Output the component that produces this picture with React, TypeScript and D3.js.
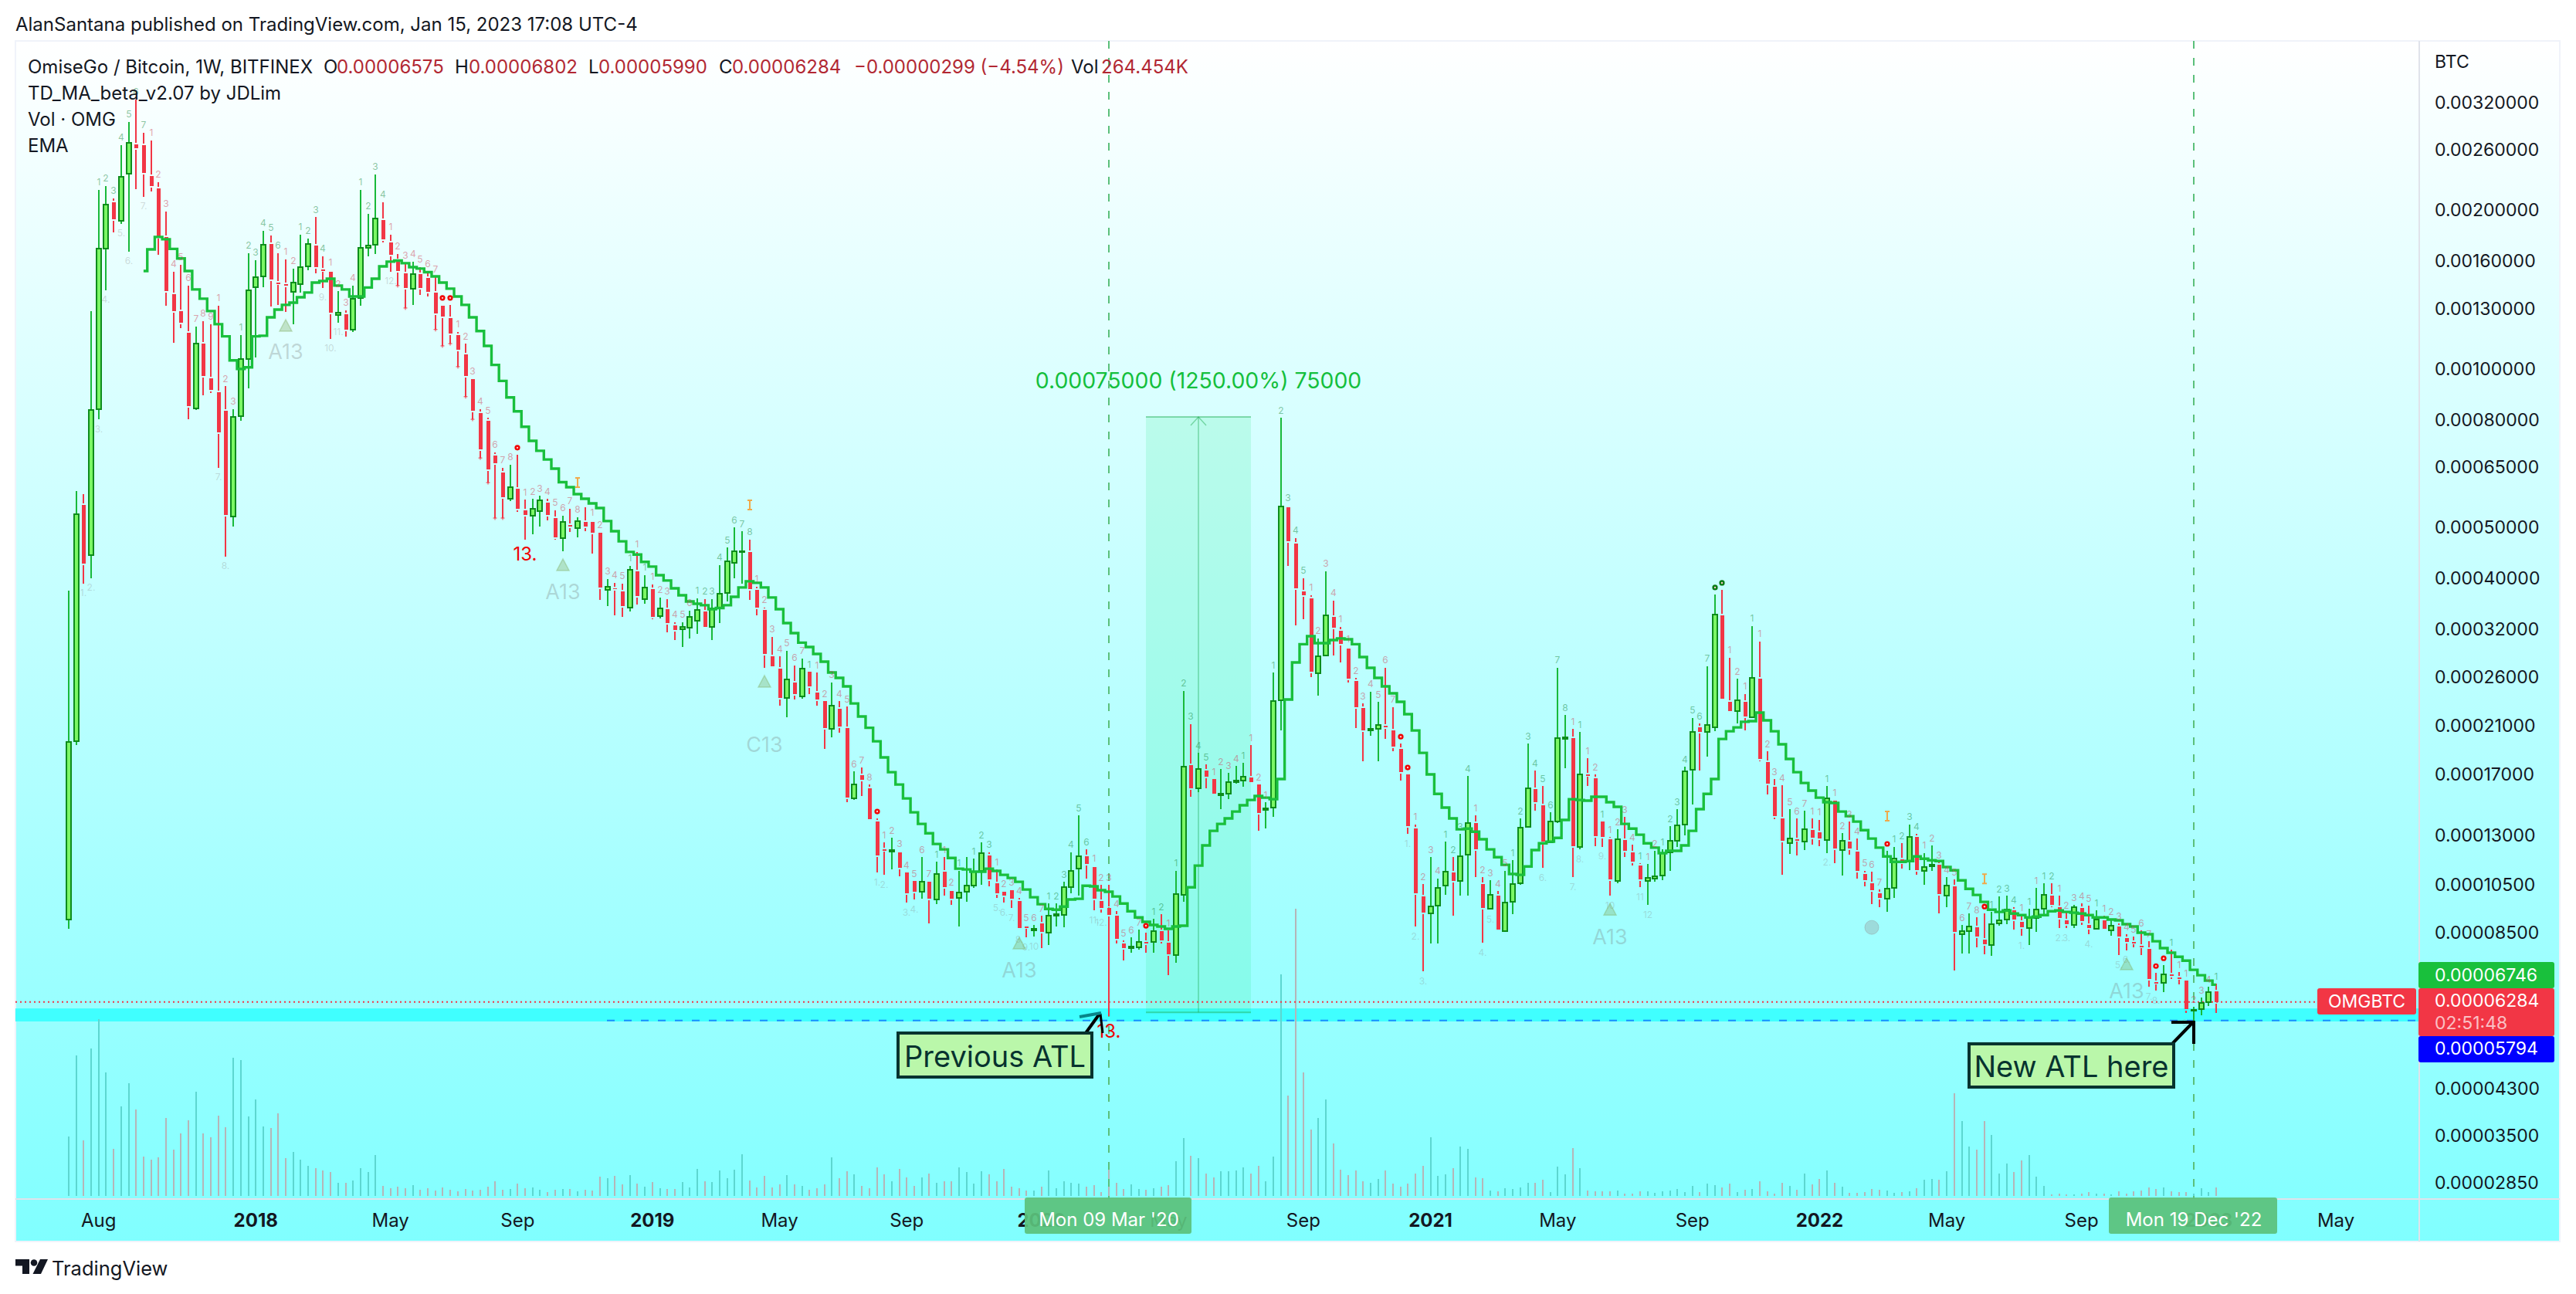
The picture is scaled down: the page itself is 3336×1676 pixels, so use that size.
import React, { useRef, useEffect } from 'react';
import * as d3 from 'd3';

// weekly OMG/BTC candles, prices in satoshi
const opens = [9005,19630,55150,44300,83800,169100,207000,190900,234600,266600,265700,232300,220000,177900,138500,128650,117100,84100,111600,95900,90200,83240,52430,81300,104300,142800,149700,172600,145700,144700,140000,144700,156400,171400,154300,152800,126500,126900,118700,136200,169600,172000,191500,173700,160800,151700,141900,151200,148700,139500,131700,124800,115900,106500,95600,82400,79650,68400,63540,56640,59200,53870,52610,53690,55710,52070,47710,50500,49820,51200,51200,48850,38050,38310,37800,35210,41260,36540,38180,33930,34970,32580,32040,32250,33250,34630,32360,35210,37540,42820,44900,44900,38050,34860,28460,26970,23720,25380,23880,26600,24290,23400,20720,22620,20790,15290,16920,15980,13820,12240,12120,12080,11060,10650,10170,10620,9830,11100,10200,9895,10170,10440,11140,11910,10550,10170,10240,9762,8735,8590,8854,8503,9153,9184,10370,11250,11870,11330,9762,9467,9153,8110,7948,7975,8165,8165,8560,8137,7711,10030,17680,15980,17270,16640,15500,15600,16410,16520,16750,16250,14540,14690,23480,54600,46570,37800,36670,26420,28560,33820,31820,29440,25550,22700,20580,20720,21000,20580,18980,16980,13400,9961,9247,9563,10440,11060,10650,11950,13730,10510,9435,9995,8560,9729,10550,13490,15920,14840,12620,13820,19830,19890,12370,16980,16690,13820,12790,10650,12740,12080,11400,10650,10770,10910,12080,12700,13640,17330,20860,20440,20860,34050,23320,22390,23320,21800,25800,17920,16080,14010,12570,12790,12660,13310,13180,12740,15140,12200,12660,12120,10990,10550,10100,9860,10340,11710,11590,12910,11140,11360,11440,9995,10410,8445,8560,8705,8250,8055,8854,9005,9371,8914,8676,9061,9435,9995,9500,8975,8795,9467,8795,8648,8975,8590,8735,8304,8165,8029,7921,6849,6826,7082,6987,6895,6045,6086,6274,6575];
const highs = [37930,58600,57800,128650,218500,222200,210600,265700,294100,324300,280500,271200,226000,198800,152800,157500,143800,120300,123100,121500,131700,92700,83800,115900,165700,160800,182800,179100,165700,161300,154900,179700,176700,194100,163500,153800,140400,129100,143800,218500,196800,233800,207000,179700,165100,158600,159700,155900,152800,149200,132200,132200,117500,111600,95600,83800,80700,69400,64850,65730,68700,56450,56640,57410,56640,53870,52610,54230,52250,54600,51550,48850,39900,39230,39100,42250,44900,40570,38970,36790,36540,33030,33030,34740,36670,36540,36540,42390,45790,50000,49160,47390,38570,35210,30970,28460,29150,27340,28180,26600,26510,23400,25380,23400,22850,17210,17500,16250,14010,12620,12870,12120,11060,10650,11830,10650,11590,11830,10270,11140,11830,11750,12620,12080,11210,10200,10270,9895,8795,8795,9153,9660,9660,10620,12080,14200,12240,11400,10480,10480,9340,8220,8332,8618,8503,9035,9215,8590,11140,24460,21150,18660,17740,16640,17390,17090,17620,17860,19300,16250,15040,26510,80700,54970,47710,40030,37160,30770,41260,36300,32360,29640,25890,23160,24370,23320,27060,22780,19430,16980,13640,10510,11830,10770,12660,11830,13090,16860,14200,10840,10690,10200,11140,11670,14010,19430,17270,16140,14390,27060,22020,20720,20440,18230,16980,13820,12910,13360,14100,12490,11520,11480,12160,12240,13540,14590,17560,21730,21220,27240,37290,38050,28270,25800,24130,32470,30350,18790,16640,16190,14590,14010,14490,14010,13920,16140,15190,13130,13820,12830,11140,11100,10270,12160,12370,12570,13640,13090,12040,12450,11550,10840,10730,8795,9247,9090,9247,9310,9961,9995,9500,9184,9435,10340,10550,10550,9995,9280,9595,9660,9563,9371,9153,9035,8854,8445,8360,8590,8190,7130,7376,7895,7155,6895,6148,6402,6710,6802];
const lows = [8648,19300,39100,40030,80180,140900,181500,188400,166800,219300,212000,217000,164600,131700,112000,119500,80180,83500,89100,89930,64850,44000,50160,79650,91770,105000,142800,131200,132200,128200,121500,139500,153800,151700,142400,114000,122300,115200,117500,131700,163500,165100,173700,152800,143800,130400,132200,138100,137100,118700,110500,111600,100900,88500,80180,67710,60800,52070,52070,56090,53500,47400,48520,50160,51550,47390,45050,48990,47900,49160,44600,36420,35450,34050,33820,34630,35690,35810,33470,33590,31580,30550,29640,30770,31390,32140,30550,32910,36170,40030,39100,36420,34050,27060,27150,22930,21800,23560,23640,24130,22930,18980,19960,20370,15040,15190,15450,13920,11060,10950,11210,10880,9690,9830,9860,8854,9630,9995,9595,8735,9729,10340,10480,10410,9895,9690,9467,8618,8332,8360,7948,8055,8735,8705,10100,9995,10770,9371,9280,5900,8110,7527,7790,7895,7790,7790,8110,7060,7460,9729,15400,15700,15980,15500,14590,15240,16300,16080,16300,13270,13400,14100,20580,42250,32580,33470,25980,23960,28460,28560,27700,25380,20790,17980,20100,17980,19830,18790,16520,13090,8735,7180,8110,8110,10030,9153,9995,9995,10840,8137,9403,8560,8532,9215,10480,13450,14490,11290,12570,13730,17450,10840,12240,16140,12400,12370,9995,10550,11830,11400,10370,9595,10620,10690,11140,12370,13000,14890,17270,18350,20510,23480,22250,21220,20580,21730,17980,15550,13960,10950,11990,11910,12200,12490,12400,12040,11520,10910,11950,10770,10410,9630,9500,9310,9895,11250,11170,10950,10480,11140,9247,9500,7200,7760,7760,7975,7735,7680,8765,8825,8618,8390,8055,8532,9184,9500,8676,8676,8676,8795,8445,8618,8648,8390,7711,7870,7975,7711,6710,6597,6555,6942,6775,5984,5785,5923,6170,5990];
const closes = [19560,53000,42680,83500,169100,205000,192200,231500,268400,262200,235400,222200,177900,140400,128650,122300,85000,111600,96890,91150,75700,52790,81000,104300,140900,149200,172000,147700,145200,143800,145700,155900,172600,155900,153800,127800,127800,118700,135800,169600,171400,192900,176100,164600,153300,142400,151200,142400,140000,127400,125600,116700,108700,96890,83240,70330,64400,66170,57020,59600,54230,52790,54230,56260,52790,47900,51200,50160,51390,50160,48850,38440,38570,38180,35450,41540,37040,38440,33820,35090,32910,31930,32360,33820,34860,32360,35090,37410,43120,44970,45050,38180,35210,28750,27240,23720,25720,24130,26970,24950,23560,20790,22930,20930,15340,16250,16580,13960,11910,12200,12200,11290,10100,10170,10620,9860,10990,10370,9860,10130,10440,11100,12040,10720,10100,9995,9860,8676,8705,8648,8532,9153,9215,10370,11140,11870,11480,9860,9467,9184,8280,7948,8000,8165,8110,8560,8220,7735,10070,17560,15980,17390,16800,15600,15600,16410,16520,16800,16410,14340,14640,23400,54800,47040,38310,37160,26600,28460,34050,32250,30000,25800,22780,20580,20720,21090,20860,19170,17150,13540,10100,9280,9530,10340,11100,10650,11870,13730,12240,9467,10030,8618,9690,10510,13450,15980,15040,12660,13820,19890,19960,12400,16980,16920,12960,12910,10720,12790,12160,11590,10720,10800,10880,12040,12700,13590,17210,20440,20440,21090,34200,23640,22390,23480,21870,25890,18170,16300,14150,12700,12830,12740,13360,12870,12830,15290,12280,12700,12280,11140,10690,10240,9895,10300,11750,11550,12910,11170,11330,11440,10070,10440,8532,8560,8735,8360,8082,8825,8975,9403,9005,8705,9061,9403,10030,9595,9061,8825,9500,8945,8676,9005,8648,8765,8360,8165,8137,8000,6942,6826,7082,7030,6965,6086,6065,6260,6555,6284];
// EMA starts at bar 10
const emaStart = 10;
const emaValues = [153300,168500,177900,176100,168800,161900,153300,141400,135800,128650,121500,115200,103700,99900,100600,115200,115500,125200,129500,132200,133500,136700,139500,145700,146700,148200,143800,141400,137100,137100,142600,148200,156400,159700,160400,158600,155900,154900,152500,149700,145700,141900,137100,132200,125200,117900,110500,101700,94800,88200,83000,77600,72950,69850,67250,64630,60900,59600,57800,56640,55520,54400,51390,49160,47040,44900,44400,43000,42110,40570,39630,38310,37160,36170,35810,35570,34970,35150,35570,36910,38440,39500,39230,38440,36790,34970,32910,31500,30200,29640,28750,27800,26510,25890,24950,23160,21870,20820,19630,18290,17150,16250,15290,14390,13680,13130,12530,12240,11790,11250,11210,11100,11100,11250,11140,10950,10800,10620,10270,9928,9630,9435,9403,9530,9830,9860,10440,10410,10240,10170,9961,9660,9340,9090,8914,8795,8735,8648,8735,8765,10370,11400,12450,13270,13680,14010,14440,14840,15190,15450,15340,15240,16640,23560,27700,30000,31070,30140,30140,30550,30770,30660,30000,28370,27060,25890,24950,24210,23320,22100,20580,18660,16980,15600,14690,14010,13360,13400,13220,12790,12240,11830,11440,10990,10950,11360,12200,12570,12660,12870,13920,15240,15190,15140,15400,15400,15040,14740,13680,13400,13050,12570,12330,12040,12160,12160,12450,13270,14590,15600,16640,19830,20510,20860,21370,21440,22250,21510,20510,19370,18170,17150,16360,15820,15340,15040,14990,14440,14150,13820,13310,12830,12330,11870,11590,11590,11630,11870,11750,11670,11630,11330,11170,10690,10300,10030,9729,9403,9310,9371,9247,9184,9090,9120,9184,9340,9371,9310,9280,9247,9184,9090,9090,9005,8975,8825,8735,8503,8445,8190,7948,7790,7655,7527,7230,7060,6895,6775];
// volume in K OMG
const volumes = [1925,4550,1800,4775,5725,4000,1525,2900,3650,2800,1275,1175,1250,2525,1500,2025,2450,3375,2025,1900,2600,2225,4475,4400,2575,3125,2250,2200,2675,1225,1425,1175,975,900,825,775,425,425,500,900,775,1325,325,250,300,250,350,200,250,175,275,200,150,225,175,200,300,475,200,225,400,250,275,200,125,200,225,225,150,200,175,625,575,650,375,675,400,300,450,250,225,225,450,275,875,475,450,825,575,850,1350,500,275,650,275,375,675,375,325,200,250,375,1250,575,800,700,325,250,925,700,475,875,600,325,600,725,425,475,475,925,775,400,800,700,475,875,300,250,175,175,300,825,250,475,425,400,300,350,125,1100,425,225,375,225,200,250,300,350,1125,1875,1300,1225,725,600,800,800,825,925,725,975,475,1275,7175,3250,9300,4000,2150,2525,3125,1700,850,675,825,475,425,550,825,400,300,400,725,975,1900,650,700,900,1600,1525,600,575,175,150,250,225,275,425,425,525,125,950,700,1550,900,175,150,150,150,175,75,75,150,150,100,150,175,225,125,325,125,400,350,275,400,125,200,225,475,150,75,425,325,200,725,375,550,825,425,300,100,100,125,225,200,175,100,125,150,250,525,550,525,800,3325,2425,1600,1500,2425,1975,725,1050,775,1150,1325,625,325,50,75,50,50,75,125,75,75,50,150,75,150,175,275,225,275,150,125,125,75,250,125,264];

const priceTicks = [0.0032,0.0026,0.002,0.0016,0.0013,0.001,0.0008,0.00065,0.0005,0.0004,0.00032,0.00026,0.00021,0.00017,0.00013,0.000105,0.000085,0.000043,0.000035,0.0000285];
const timeTicks: [number, string, boolean][] = [[4,'Aug',false],[25,'2018',true],[43,'May',false],[60,'Sep',false],[78,'2019',true],[95,'May',false],[112,'Sep',false],[130,'2020',true],[147,'May',false],[165,'Sep',false],[182,'2021',true],[199,'May',false],[217,'Sep',false],[234,'2022',true],[251,'May',false],[269,'Sep',false],[286,'2023',true],[303,'May',false]];

// TD sequence runs above the highs: start bar, colour, how many
const tdRuns: [number, string, number][] = [[4,'g',7],[11,'r',9],[20,'r',3],[23,'g',6],[29,'r',2],[31,'g',4],[35,'r',4],[39,'g',4],[43,'r',7],[52,'r',8],[61,'r',8],[70,'r',5],[75,'g',1],[76,'r',1],[77,'g',1],[78,'r',6],[84,'g',8],[92,'r',7],[99,'g',1],[100,'r',8],[109,'r',7],[116,'g',1],[117,'r',2],[119,'g',1],[121,'g',3],[124,'r',7],[131,'g',6],[137,'r',7],[145,'g',2],[147,'r',1],[148,'g',5],[153,'r',4],[157,'g',1],[158,'r',2],[160,'r',1],[161,'g',5],[166,'r',4],[170,'r',1],[171,'r',7],[180,'r',4],[184,'g',4],[188,'r',5],[193,'g',8],[201,'r',1],[202,'g',1],[203,'r',2],[205,'g',1],[206,'r',4],[210,'g',1],[211,'r',2],[213,'g',7],[222,'r',2],[224,'r',1],[225,'g',1],[226,'r',7],[233,'r',1],[234,'r',1],[235,'g',1],[236,'r',7],[244,'g',4],[248,'r',8],[257,'g',4],[261,'r',1],[262,'g',1],[263,'r',1],[264,'g',2],[266,'r',5],[271,'g',1],[272,'r',7],[281,'g',1],[282,'r',1],[283,'r',4],[287,'g',1]];
const zeroBars: [number, string][] = [[50,'#f00000'],[51,'#f00000'],[60,'#f00000'],[108,'#f00000'],[144,'#f00000'],[178,'#f00000'],[179,'#f00000'],[220,'#0b7a14'],[221,'#0b7a14'],[243,'#f00000'],[256,'#f00000'],[279,'#f00000'],[280,'#f00000']];
const belowLabels: [number, string][] = [[2,'1.'],[3,'2.'],[4,'3.'],[5,'4.'],[7,'5.'],[8,'6.'],[10,'7.'],[20,'7.'],[21,'8.'],[34,'9.'],[35,'10.'],[36,'11.'],[43,'12.'],[108,'1.'],[109,'2.'],[112,'3.'],[113,'4.'],[124,'5.'],[125,'6.'],[126,'7.'],[127,'8.'],[128,'9.'],[129,'10'],[137,'11.'],[138,'12.'],[179,'1.'],[180,'2.'],[181,'3.'],[189,'4.'],[190,'5.'],[197,'6.'],[201,'7.'],[202,'8.'],[205,'9.'],[206,'10'],[210,'11'],[211,'12'],[235,'2.'],[261,'1.'],[266,'2.'],[267,'3.'],[270,'4.'],[274,'5.'],[275,'6.'],[278,'7.'],[279,'8.'],[283,'9.']];
const plusBars = [44,45,49,50,51,52,53,54,55,56,57,58];
const setupMarks: [number, string, number][] = [[29,'A13',52],[66,'A13',53],[93,'C13',100],[127,'A13',52],[206,'A13',53],[275,'A13',53]];
const beamBars = [68,91,243,256];
const bigThirteens = [61,139];

const W = 3336;
const H = 1676;
const FONT = 'Inter, "Noto Sans", sans-serif';

const App: React.FC = () => {
  const svgRef = useRef<SVGSVGElement>(null);

  useEffect(() => {
    const svg = d3.select(svgRef.current);
    svg.selectAll('*').remove();

    const left = 20;
    const axisX = 3133;
    const right = 3315;
    const top = 53;
    const paneBottom = 1553;
    const bottom = 1608;

    const x = d3.scaleLinear().domain([0, 287]).range([89, 2870]);
    const y = d3.scaleLog().domain([50000, 2850]).range([683, 1532]); // satoshi
    const yBtc = (p: number) => y(p * 1e8);
    const vol = d3.scaleLinear().domain([0, 9300]).range([1549, 1177]);
    const bx = (i: number) => Math.round(x(i));

    const text = (g: any, tx: number, ty: number, s: string, size: number, fill: string, anchor = 'start', weight = 400) =>
      g.append('text')
        .attr('x', tx).attr('y', ty).attr('font-family', FONT).attr('font-size', size)
        .attr('font-weight', weight).attr('fill', fill).attr('text-anchor', anchor)
        .attr('dominant-baseline', 'central').text(s);

    const defs = svg.append('defs');
    const grad = defs.append('linearGradient').attr('id', 'bg').attr('x1', 0).attr('x2', 0).attr('y1', 0).attr('y2', 1);
    grad.append('stop').attr('offset', '0%').attr('stop-color', '#ffffff');
    grad.append('stop').attr('offset', '100%').attr('stop-color', '#80ffff');

    // page + pane
    svg.append('rect').attr('width', W).attr('height', H).attr('fill', '#ffffff');
    svg.append('rect').attr('x', left).attr('y', top).attr('width', right - left).attr('height', bottom - top)
      .attr('fill', 'url(#bg)').attr('stroke', '#f0f3fa').attr('stroke-width', 2);
    svg.append('line').attr('x1', axisX).attr('x2', axisX).attr('y1', top).attr('y2', bottom).attr('stroke', '#e0e3eb').attr('stroke-width', 2);
    svg.append('line').attr('x1', left).attr('x2', right).attr('y1', paneBottom).attr('y2', paneBottom).attr('stroke', '#e0e3eb').attr('stroke-width', 2);

    // ATL band
    const bandTop = y(6107);
    const bandBottom = y(5770);
    svg.append('rect').attr('x', left).attr('y', bandTop).attr('width', axisX - left).attr('height', bandBottom - bandTop).attr('fill', '#40ffff');

    // volume
    const volG = svg.append('g').attr('shape-rendering', 'crispEdges');
    volG.selectAll('rect').data(volumes).enter().append('rect')
      .attr('x', (_: any, i: number) => bx(i) - 1)
      .attr('width', 2)
      .attr('y', (d: number) => vol(d))
      .attr('height', (d: number) => vol(0) - vol(d))
      .attr('fill', (_: any, i: number) => (closes[i] >= opens[i] ? '#5dd6d0' : '#b5b5b8'));

    // long position tool
    const posLeft = 1484;
    const posRight = 1620;
    const posMid = (posLeft + posRight) / 2;
    const posTop = y(81000);
    const posBottom = y(6000);
    svg.append('rect').attr('x', posLeft).attr('y', posTop).attr('width', posRight - posLeft).attr('height', posBottom - posTop).attr('fill', 'rgba(30,225,120,0.15)');
    svg.append('line').attr('x1', posLeft).attr('x2', posRight).attr('y1', posTop).attr('y2', posTop).attr('stroke', 'rgba(30,170,80,0.45)').attr('stroke-width', 2);
    svg.append('line').attr('x1', posLeft).attr('x2', posRight).attr('y1', posBottom).attr('y2', posBottom).attr('stroke', 'rgba(30,170,80,0.45)').attr('stroke-width', 2);
    svg.append('line').attr('x1', posMid).attr('x2', posMid).attr('y1', posTop).attr('y2', posBottom).attr('stroke', 'rgba(30,170,80,0.45)').attr('stroke-width', 1.5);
    svg.append('path').attr('d', `M${posMid - 10} ${posTop + 11}L${posMid} ${posTop}L${posMid + 10} ${posTop + 11}`).attr('fill', 'none').attr('stroke', 'rgba(30,170,80,0.45)').attr('stroke-width', 1.5);
    text(svg, posMid, 492, '0.00075000 (1250.00%) 75000', 28.4, '#14bf3c', 'middle');

    // crosshair style verticals
    [139, 284].forEach((i) => {
      svg.append('line').attr('x1', bx(i)).attr('x2', bx(i)).attr('y1', top).attr('y2', paneBottom)
        .attr('stroke', '#5bbf7a').attr('stroke-width', 2).attr('stroke-dasharray', '10 12');
    });

    // last price + low lines
    svg.append('line').attr('x1', left).attr('x2', 3001).attr('y1', y(6284)).attr('y2', y(6284))
      .attr('stroke', '#f23645').attr('stroke-width', 2).attr('stroke-dasharray', '2 4');
    svg.append('line').attr('x1', 786).attr('x2', axisX).attr('y1', y(5794)).attr('y2', y(5794))
      .attr('stroke', '#1a90ff').attr('stroke-width', 2).attr('stroke-dasharray', '10 12');

    // candles
    const wicks = svg.append('g').attr('shape-rendering', 'crispEdges');
    const bodies = svg.append('g').attr('shape-rendering', 'crispEdges');
    opens.forEach((o, i) => {
      const c = closes[i];
      const up = c >= o;
      const cx = bx(i);
      const yTop = y(Math.max(o, c));
      const yBot = y(Math.min(o, c));
      if (up) {
        wicks.append('line').attr('x1', cx).attr('x2', cx).attr('y1', y(highs[i])).attr('y2', y(lows[i])).attr('stroke', '#19b93a').attr('stroke-width', 2);
        bodies.append('rect').attr('x', cx - 3).attr('y', yTop).attr('width', 6).attr('height', Math.max(yBot - yTop, 1))
          .attr('fill', '#7bf765').attr('stroke', '#0e8c1c').attr('stroke-width', 2);
      } else {
        // red wicks stop short of the body
        if (yTop - 2 > y(highs[i])) wicks.append('line').attr('x1', cx).attr('x2', cx).attr('y1', y(highs[i])).attr('y2', yTop - 2).attr('stroke', '#f23645').attr('stroke-width', 2);
        if (yBot + 2 < y(lows[i])) wicks.append('line').attr('x1', cx).attr('x2', cx).attr('y1', yBot + 2).attr('y2', y(lows[i])).attr('stroke', '#f23645').attr('stroke-width', 2);
        bodies.append('rect').attr('x', cx - 2.5).attr('y', yTop).attr('width', 5).attr('height', Math.max(yBot - yTop, 1.5)).attr('fill', '#f23645');
      }
    });

    // EMA
    const ema = d3.line<number>()
      .x((_, i) => x(i + emaStart))
      .y((d) => y(d))
      .curve(d3.curveStep);
    svg.append('path').attr('d', ema(emaValues)).attr('fill', 'none').attr('stroke', '#19bf3c').attr('stroke-width', 3.4);

    // TD counts
    const td = svg.append('g');
    tdRuns.forEach(([start, kind, n]) => {
      d3.range(n).forEach((k) => {
        const i = start + k;
        text(td, bx(i), y(highs[i]) - 10, String(k + 1), 12, kind === 'g' ? 'rgba(30,140,70,0.5)' : 'rgba(205,70,90,0.5)', 'middle');
      });
    });
    belowLabels.forEach(([i, s]) => {
      text(td, bx(i), y(lows[i]) + 12, s, 12, 'rgba(130,130,130,0.3)', 'middle');
    });
    zeroBars.forEach(([i, col]) => {
      td.append('circle').attr('cx', bx(i)).attr('cy', y(highs[i]) - 9).attr('r', 3.6).attr('fill', col);
      td.append('circle').attr('cx', bx(i)).attr('cy', y(highs[i]) - 9).attr('r', 1.2).attr('fill', '#ffc8c8');
    });
    plusBars.forEach((i) => {
      td.append('path').attr('d', `M${bx(i) - 2.5} ${y(lows[i])}h5M${bx(i)} ${y(lows[i]) - 2.5}v5`).attr('stroke', '#f23645').attr('stroke-width', 1);
    });
    setupMarks.forEach(([i, s, off]) => {
      const b = y(lows[i]);
      const cx = bx(i);
      td.append('path').attr('d', `M${cx} ${b + 10}L${cx + 8} ${b + 25}H${cx - 8}Z`).attr('fill', 'rgba(130,175,100,0.35)').attr('stroke', 'rgba(130,175,100,0.4)').attr('stroke-width', 1.5);
      text(td, cx, b + off, s, 27, 'rgba(120,130,130,0.33)', 'middle');
    });
    td.append('circle').attr('cx', bx(241)).attr('cy', y(lows[241]) + 30).attr('r', 9).attr('fill', 'rgba(150,165,165,0.4)').attr('stroke', 'rgba(150,165,165,0.5)');
    beamBars.forEach((i) => {
      const b = y(highs[i]) - 45;
      td.append('path').attr('d', `M${bx(i) - 3} ${b - 6}h6M${bx(i)} ${b - 6}v12M${bx(i) - 3} ${b + 6}h6`).attr('fill', 'none').attr('stroke', '#f0a94a').attr('stroke-width', 2);
    });
    bigThirteens.forEach((i) => {
      text(td, bx(i), y(lows[i]) + 19, '13.', 24, '#f00000', 'middle');
    });

    // callouts
    const callout = (bxL: number, bxT: number, bxR: number, bxB: number, s: string) => {
      svg.append('rect').attr('x', bxL).attr('y', bxT).attr('width', bxR - bxL).attr('height', bxB - bxT).attr('fill', '#baf7aa').attr('stroke', '#07332f').attr('stroke-width', 4);
      text(svg, (bxL + bxR) / 2, (bxT + bxB) / 2 + 1, s, 38, '#07332f', 'middle');
    };
    svg.append('path').attr('d', 'M1406 1338L1424 1313').attr('stroke', '#000').attr('stroke-width', 4).attr('fill', 'none');
    svg.append('path').attr('d', 'M1428 1338L1425 1313').attr('stroke', '#000').attr('stroke-width', 3).attr('fill', 'none');
    svg.append('path').attr('d', 'M1398 1317L1426 1312').attr('stroke', '#08858a').attr('stroke-width', 4).attr('fill', 'none');
    callout(1163, 1338, 1414, 1395, 'Previous ATL');
    svg.append('path').attr('d', 'M2813 1352L2840 1324M2812 1324H2841V1352').attr('stroke', '#000').attr('stroke-width', 4).attr('fill', 'none');
    callout(2550, 1352, 2815, 1408, 'New ATL here');

    // price axis
    text(svg, 3153, 80, 'BTC', 23, '#131722');
    priceTicks.forEach((p) => {
      text(svg, 3153, yBtc(p), p.toFixed(8), 23, '#131722');
    });

    // time axis
    timeTicks.forEach(([i, s, bold]) => {
      text(svg, x(i), 1580, s, 24, '#131722', 'middle', bold ? 700 : 400);
    });
    const dateTag = (i: number, l: number, r: number, s: string) => {
      svg.append('rect').attr('x', l).attr('y', 1551).attr('width', r - l).attr('height', 47).attr('rx', 3).attr('fill', '#5bc27c').attr('fill-opacity', 0.93);
      text(svg, bx(i), 1579, s, 24, '#ffffff', 'middle');
    };
    dateTag(139, 1327, 1543, "Mon 09 Mar '20");
    dateTag(284, 2731, 2949, "Mon 19 Dec '22");

    // last price tags
    svg.append('rect').attr('x', 3001).attr('y', 1280).attr('width', 128).attr('height', 34).attr('rx', 3).attr('fill', '#f23645');
    text(svg, 3065, 1297, 'OMGBTC', 23, '#ffffff', 'middle');
    svg.append('rect').attr('x', 3132).attr('y', 1246).attr('width', 176).attr('height', 34).attr('rx', 3).attr('fill', '#19c03c');
    text(svg, 3153, 1263, '0.00006746', 23, '#ffffff');
    svg.append('rect').attr('x', 3132).attr('y', 1280).attr('width', 176).attr('height', 62).attr('rx', 3).attr('fill', '#f23645');
    text(svg, 3153, 1296, '0.00006284', 23, '#ffffff');
    text(svg, 3153, 1325, '02:51:48', 23, 'rgba(255,255,255,0.7)');
    svg.append('rect').attr('x', 3132).attr('y', 1342).attr('width', 176).attr('height', 34).attr('rx', 3).attr('fill', '#0000ff');
    text(svg, 3153, 1358, '0.00005794', 23, '#ffffff');

    // header + legend
    text(svg, 20, 31, 'AlanSantana published on TradingView.com, Jan 15, 2023 17:08 UTC-4', 24, '#131722');
    text(svg, 36, 86, 'OmiseGo / Bitcoin, 1W, BITFINEX', 24, '#131722');
    const legendRed = '#b22833';
    [[419, 'O'], [589, 'H'], [762, 'L'], [931, 'C']].forEach(([lx, s]) => text(svg, lx as number, 86, s as string, 24, '#131722'));
    [[436, '0.00006575'], [607, '0.00006802'], [775, '0.00005990'], [948, '0.00006284'], [1106, '\u22120.00000299 (\u22124.54%)']].forEach(([lx, s]) =>
      text(svg, lx as number, 86, s as string, 24, legendRed));
    text(svg, 1387, 86, 'Vol', 24, '#131722');
    text(svg, 1426, 86, '264.454K', 24, legendRed);
    text(svg, 36, 120, 'TD_MA_beta_v2.07 by JDLim', 24, '#131722');
    text(svg, 36, 154, 'Vol \u00b7 OMG', 24, '#131722');
    text(svg, 36, 188, 'EMA', 24, '#131722');

    // TradingView mark
    svg.append('path').attr('d', 'M20 1631h18v19h-9v-10.5h-9zM52 1631h10l-9 19h-10.5z').attr('fill', '#131722');
    svg.append('circle').attr('cx', 44).attr('cy', 1635.5).attr('r', 4.3).attr('fill', '#131722');
    text(svg, 67, 1642, 'TradingView', 25.5, '#131722');
  }, []);

  return <svg ref={svgRef} width={W} height={H} style={{ position: 'absolute', left: 0, top: 0, display: 'block' }} />;
};

export default App;
